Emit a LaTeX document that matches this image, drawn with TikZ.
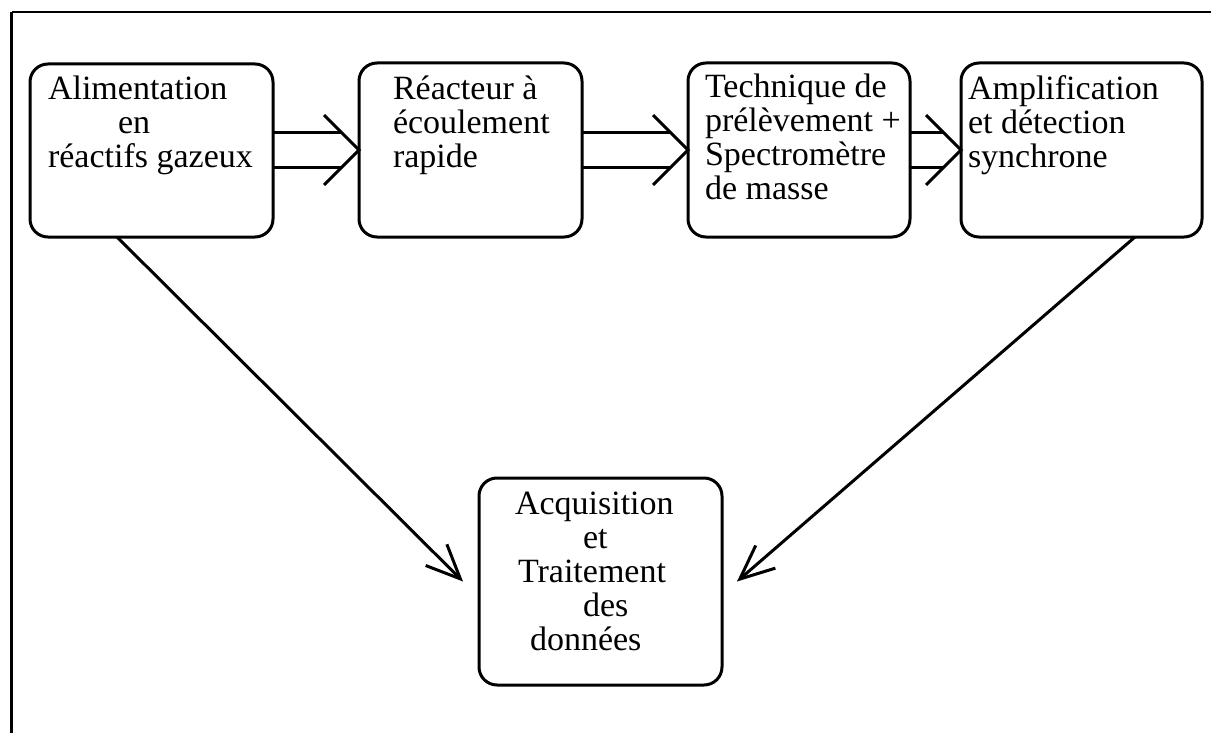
\documentclass[tikz,border=0pt]{standalone}
\usepackage{fontspec}
\setmainfont{Liberation Serif}
\usetikzlibrary{calc,arrows.meta}
\begin{document}
\begin{tikzpicture}[x=0.5pt,y=-0.5pt,
  box/.style={draw, line width=1.5pt, rounded corners=9pt, inner sep=0pt, outer sep=0pt},
  lbl/.style={anchor=base west, inner sep=0pt, outer sep=0pt, font=\fontsize{17}{17}\selectfont},
  conn/.style={line width=1.5pt},
  barb/.style={-{Straight Barb[length=17pt,width=15pt]}}
]
\useasboundingbox (0,0) rectangle (1211,733);

% open frame: left and top sides only
\coordinate (fbl) at (11.5,733);
\coordinate (ftl) at (11.5,12.5);
\coordinate (ftr) at (1211,12.5);
\draw[line width=1.5pt] (fbl) -- (ftl);
\draw[line width=1pt] (ftl) -- (ftr);

% process boxes
\node[box, minimum width=121.5pt, minimum height=86.5pt] (b1) at (151.5,150.5) {};
\node[box, minimum width=111.5pt, minimum height=87pt]   (b2) at (470.5,150) {};
\node[box, minimum width=111pt,   minimum height=87pt]   (b3) at (799,150) {};
\node[box, minimum width=120.5pt, minimum height=87pt]   (b4) at (1081.5,150) {};
\node[box, minimum width=121.5pt, minimum height=103.5pt] (b5) at (600.5,581.5) {};

% box texts
\node[lbl] (t1) at (48,100) {\parbox[t]{120pt}{Alimentation\\\hspace*{35pt}en\\réactifs gazeux}};
\node[lbl] (t2) at (393,100) {\parbox[t]{100pt}{Réacteur à\\écoulement\\rapide}};
\node[lbl] (t3) at (705,98) {\parbox[t]{110pt}{Technique de\\prélèvement +\\Spectromètre\\de masse}};
\node[lbl] (t4) at (968,100) {\parbox[t]{120pt}{Amplification\\et détection\\synchrone}};
\node[lbl] (t5) at (515,514) {\parbox[t]{110pt}{Acquisition\\\hspace*{34pt}et\\\hspace*{1.5pt}Traitement\\\hspace*{34pt}des\\\hspace*{7.5pt}données}};

% double-line arrows along the chain
\foreach \a/\b in {b1/b2,b2/b3,b3/b4}{
  \path ($(\b.west)+(-17.5,-17.5)$) coordinate (u) ($(\b.west)+(-17.5,17.5)$) coordinate (d);
  \draw[conn] (\a.east |- u) -- (u) (\a.east |- d) -- (d);
  \draw[conn] ($(\b.west)+(-35,-35)$) -- (\b.west) -- ($(\b.west)+(-35,35)$);
}

% arrows down to the acquisition box
\coordinate (s1) at ($(b1.south west)+(87,0)$);
\coordinate (e1) at ($(b5.west)+(-16,0)$);
\draw[conn, barb] (s1) -- (e1);
\coordinate (s4) at ($(b4.south west)+(174,0)$);
\coordinate (e4) at ($(b5.east)+(15,0)$);
\draw[conn, barb] (s4) -- (e4);
\end{tikzpicture}
\end{document}
